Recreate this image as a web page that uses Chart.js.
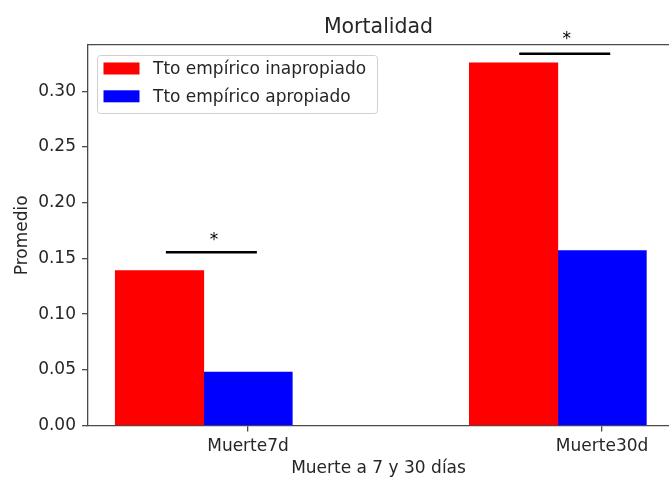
<!DOCTYPE html>
<html>
<head>
<meta charset="utf-8">
<script src="https://cdn.jsdelivr.net/npm/chart.js@4.4.1/dist/chart.umd.min.js"></script>
<style>
  html, body { margin: 0; padding: 0; background: #fff; }
  #wrap { width: 669px; height: 479px; }
</style>
</head>
<body>
<div id="wrap"><canvas id="chart" width="669" height="479"></canvas></div>
<script>
// categories and values
const categories = ["Muerte7d", "Muerte30d"];
const inapropiado = [0.139, 0.3255];
const apropiado = [0.048, 0.157];
const seriesLabels = ["Tto empírico inapropiado", "Tto empírico apropiado"];

// significance bars (x in category units, y in data units)
const sigLineX = [[-0.232, 0.025], [0.766, 1.023]];
const sigLineY = [0.1556, 0.3338];
const starX = [-0.096, 0.900];
const starY = [0.1621, 0.3421];

const yTicks = [0, 0.05, 0.10, 0.15, 0.20, 0.25, 0.30];

const FONT = "'DejaVu Sans', sans-serif";
const TEXT = "#262626";
const SPINE = "#4a4a4a";

const barWidth = 0.25;

const bars = [
  {
    type: "bar",
    label: seriesLabels[0],
    data: inapropiado.map((v, i) => ({ x: i - barWidth, y: v })),
    backgroundColor: "#ff0000",
    borderWidth: 0,
    grouped: false,
    categoryPercentage: 1,
    barPercentage: 1
  },
  {
    type: "bar",
    label: seriesLabels[1],
    data: apropiado.map((v, i) => ({ x: i, y: v })),
    backgroundColor: "#0000ff",
    borderWidth: 0,
    grouped: false,
    categoryPercentage: 1,
    barPercentage: 1
  }
];

const sigLines = sigLineX.map((xs, k) => ({
  type: "line",
  label: "sig" + k,
  data: xs.map(x => ({ x: x, y: sigLineY[k] })),
  borderColor: "#000",
  borderWidth: 2.6,
  pointRadius: 0,
  fill: false,
  clip: false
}));

// legend box inside the axes, top-left, like matplotlib
const boxLegend = {
  id: "boxLegend",
  afterDraw(chart) {
    const ctx = chart.ctx;
    const area = chart.chartArea;
    const items = chart.data.datasets.filter(d => d.type === "bar");
    const x0 = area.left + 9, y0 = area.top + 10, w = 280, h = 58;
    ctx.save();
    ctx.fillStyle = "rgba(255,255,255,0.8)";
    ctx.strokeStyle = "#d0d0d0";
    ctx.lineWidth = 1;
    ctx.beginPath();
    ctx.roundRect(x0 + 0.5, y0 + 0.5, w, h, 3);
    ctx.fill();
    ctx.stroke();
    ctx.font = "17px " + FONT;
    ctx.textBaseline = "middle";
    ctx.textAlign = "left";
    items.forEach((d, i) => {
      const cy = y0 + 13.5 + i * 27.8;
      ctx.fillStyle = d.backgroundColor;
      ctx.fillRect(x0 + 6.5, cy - 6, 36, 12);
      ctx.fillStyle = TEXT;
      ctx.fillText(d.label, x0 + 56, cy + 1);
    });
    ctx.restore();
  }
};

// asterisks above the significance bars
const stars = {
  id: "stars",
  afterDatasetsDraw(chart) {
    const ctx = chart.ctx;
    const xs = chart.scales.x, ys = chart.scales.y;
    ctx.save();
    ctx.font = "17px " + FONT;
    ctx.fillStyle = "#000";
    ctx.textAlign = "center";
    ctx.textBaseline = "alphabetic";
    starX.forEach((sx, i) => {
      ctx.fillText("*", xs.getPixelForValue(sx), ys.getPixelForValue(starY[i]));
    });
    ctx.restore();
  }
};

new Chart(document.getElementById("chart"), {
  type: "bar",
  data: { datasets: [...bars, ...sigLines] },
  plugins: [boxLegend, stars],
  options: {
    responsive: false,
    animation: false,
    layout: { padding: 0 },
    plugins: {
      legend: { display: false },
      tooltip: { enabled: false },
      title: {
        display: true,
        text: "Mortalidad",
        fullSize: false,
        color: TEXT,
        font: { family: FONT, size: 20.5, weight: "normal" },
        padding: { top: 15, bottom: 5.4 }
      }
    },
    scales: {
      x: {
        type: "linear",
        min: -0.452,
        max: 1.189,
        offset: false,
        grid: { display: true, offset: false, drawOnChartArea: false, drawTicks: true, tickLength: 6, color: SPINE, lineWidth: 1.3 },
        border: { display: true, color: SPINE, width: 1.3 },
        afterBuildTicks: axis => { axis.ticks = categories.map((c, i) => ({ value: i })); },
        ticks: {
          color: TEXT,
          font: { family: FONT, size: 17 },
          padding: 5,
          maxRotation: 0,
          callback: v => categories[v]
        },
        title: {
          display: true,
          text: "Muerte a 7 y 30 días",
          color: TEXT,
          font: { family: FONT, size: 17 },
          padding: { top: 0, bottom: 0 }
        },
        afterFit: axis => { axis.height = 53.5; }
      },
      x2: {
        type: "linear",
        position: "top",
        axis: "x",
        display: true,
        grid: { display: false, drawTicks: false },
        ticks: { display: false },
        border: { display: true, color: SPINE, width: 1.3 },
        afterFit: axis => { axis.height = 0; }
      },
      y: {
        min: 0,
        max: 0.3416,
        grid: { display: true, drawOnChartArea: false, drawTicks: true, tickLength: 6, color: SPINE, lineWidth: 1.3 },
        border: { display: true, color: SPINE, width: 1.3 },
        afterBuildTicks: axis => { axis.ticks = yTicks.map(v => ({ value: v })); },
        ticks: {
          color: TEXT,
          font: { family: FONT, size: 17 },
          padding: 6,
          callback: v => v.toFixed(2)
        },
        title: {
          display: true,
          text: "Promedio",
          color: TEXT,
          font: { family: FONT, size: 17 },
          padding: { top: 12, bottom: 0 }
        },
        afterFit: axis => { axis.width = 88; }
      }
    }
  }
});
</script>
</body>
</html>
